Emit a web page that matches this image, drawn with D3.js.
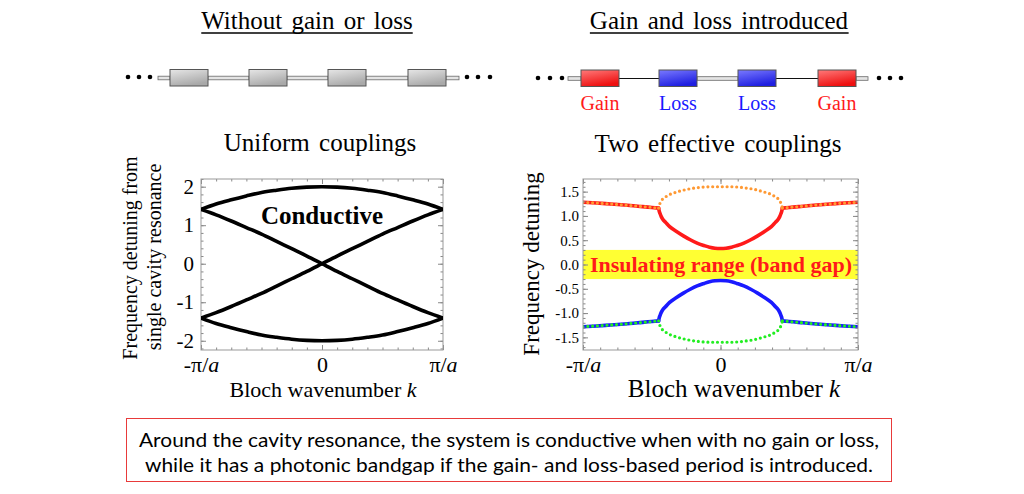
<!DOCTYPE html>
<html><head><meta charset="utf-8">
<script src="https://cdn.jsdelivr.net/npm/d3@7"></script>
<style>body{margin:0;background:#fff} svg{display:block}</style>
</head><body><svg id="c" width="1024" height="494"></svg>
<script>
// ---------- data ----------
const leftK = [-1,-0.875,-0.75,-0.625,-0.5,-0.375,-0.25,-0.125,0,0.125,0.25,0.375,0.5,0.625,0.75,0.875,1];
const upperArc = [1.41,1.55,1.66,1.76,1.85,1.91,1.96,1.99,2.00,1.99,1.96,1.91,1.85,1.76,1.66,1.55,1.41];
const lowerArc = [-1.41,-1.55,-1.66,-1.76,-1.85,-1.91,-1.96,-1.99,-2.00,-1.99,-1.96,-1.91,-1.85,-1.76,-1.66,-1.55,-1.41];
const risingBand = [-1.41,-1.27,-1.11,-0.94,-0.77,-0.58,-0.39,-0.20,0,0.20,0.39,0.58,0.77,0.94,1.11,1.27,1.41];
const fallingBand = [1.41,1.27,1.11,0.94,0.77,0.58,0.39,0.20,0,-0.20,-0.39,-0.58,-0.77,-0.94,-1.11,-1.27,-1.41];
const leftYTicks = [-2,-1,0,1,2];
const leftYTickLabels = ["-2","-1","0","1","2"];
const xTicks = [-1,0,1];

const outerKL = [-1,-0.9,-0.8,-0.7,-0.6,-0.5,-0.45];
const outerKR = [0.45,0.5,0.6,0.7,0.8,0.9,1];
const upperOuterL = [1.28,1.265,1.245,1.225,1.20,1.175,1.16];
const upperOuterR = [1.16,1.175,1.20,1.225,1.245,1.265,1.28];
const lowerOuterL = [-1.28,-1.265,-1.245,-1.225,-1.20,-1.175,-1.16];
const lowerOuterR = [-1.16,-1.175,-1.20,-1.225,-1.245,-1.265,-1.28];
const innerK = [-0.45,-0.445,-0.44,-0.43,-0.42,-0.40,-0.37,-0.32,-0.27,-0.22,-0.17,-0.12,-0.08,-0.04,0,0.04,0.08,0.12,0.17,0.22,0.27,0.32,0.37,0.40,0.42,0.43,0.44,0.445,0.45];
const redInner = [1.16,1.09,1.05,0.98,0.93,0.87,0.78,0.68,0.59,0.51,0.44,0.39,0.355,0.335,0.33,0.335,0.355,0.39,0.44,0.51,0.59,0.68,0.78,0.87,0.93,0.98,1.05,1.09,1.16];
const orangeArc = [1.16,1.22,1.26,1.31,1.35,1.39,1.44,1.49,1.53,1.56,1.58,1.595,1.60,1.60,1.60,1.60,1.60,1.595,1.58,1.56,1.53,1.49,1.44,1.39,1.35,1.31,1.26,1.22,1.16];
const blueInner = [-1.16,-1.09,-1.05,-0.98,-0.93,-0.87,-0.78,-0.68,-0.59,-0.51,-0.44,-0.39,-0.355,-0.335,-0.33,-0.335,-0.355,-0.39,-0.44,-0.51,-0.59,-0.68,-0.78,-0.87,-0.93,-0.98,-1.05,-1.09,-1.16];
const greenArc = [-1.16,-1.22,-1.26,-1.31,-1.35,-1.39,-1.44,-1.49,-1.53,-1.56,-1.58,-1.595,-1.60,-1.60,-1.60,-1.60,-1.60,-1.595,-1.58,-1.56,-1.53,-1.49,-1.44,-1.39,-1.35,-1.31,-1.26,-1.22,-1.16];
const rightYTicks = [-1.5,-1.0,-0.5,0,0.5,1.0,1.5];
const rightYTickLabels = ["-1.5","-1.0","-0.5","0.0","0.5","1.0","1.5"];
const gapBand = [-0.3, 0.3];

const chainLabels = ["Gain","Loss","Loss","Gain"];
const chainTypes = ["gain","loss","loss","gain"];
const noteLines = ["Around the cavity resonance, the system is conductive when with no gain or loss,",
                   "while it has a photonic bandgap if the gain- and loss-based period is introduced."];

// ---------- drawing ----------
const svg = d3.select("#c");
const serif = "'Liberation Serif','Times New Roman',serif";
const defs = svg.append("defs");
function grad(id, c1, c2){
  const g = defs.append("linearGradient").attr("id",id).attr("x1","0").attr("y1","0").attr("x2","0.4").attr("y2","1");
  g.append("stop").attr("offset","0").attr("stop-color",c1);
  g.append("stop").attr("offset","1").attr("stop-color",c2);
}
grad("gGray","#e6e6e6","#a9a9a9");
grad("gRed","#ff7a7a","#ee1010");
grad("gBlue","#7a7aff","#1f1fe0");

// titles
function title(text, x){
  const t = svg.append("text").attr("x",x).attr("y",29).attr("text-anchor","middle")
    .attr("font-family",serif).attr("font-size",25).attr("word-spacing","3px").text(text);
  const bb = t.node().getBBox();
  svg.append("line").attr("x1",bb.x).attr("x2",bb.x+bb.width).attr("y1",33).attr("y2",33)
    .attr("stroke","#000").attr("stroke-width",1.6);
}
title("Without gain or loss", 307);
title("Gain and loss introduced", 719);

// chains
function dots(xs, y){ xs.forEach(x=>svg.append("circle").attr("cx",x).attr("cy",y).attr("r",2.3).attr("fill","#000")); }
function dbl(x1,x2,y){
  svg.append("rect").attr("x",x1).attr("y",y-1.8).attr("width",x2-x1).attr("height",3.6)
    .attr("fill","#e4e4e4").attr("stroke","#6a6a6a").attr("stroke-width",0.8);
}
function single(x1,x2,y){ svg.append("line").attr("x1",x1).attr("x2",x2).attr("y1",y).attr("y2",y).attr("stroke","#111").attr("stroke-width",1.2); }
function box(x, y, fill){
  svg.append("rect").attr("x",x).attr("y",y).attr("width",38).attr("height",16.5)
    .attr("fill",fill).attr("stroke","#555").attr("stroke-width",1);
}
// left chain
dots([128,139,150],77);
const lbx = [170,249,328,408];
dbl(158,170,78); dbl(208,249,78); dbl(287,328,78); dbl(366,408,78); dbl(446,459,78);
lbx.forEach(x=>box(x,69.5,"url(#gGray)"));
dots([467,478,490],77);
// right chain
dots([538,550,562],78);
const rbx = [581,659,738,818];
dbl(568,581,78.5); single(619,659,78.5); dbl(697,738,78.5); single(776,818,78.5); dbl(856,868,78.5);
rbx.forEach((x,i)=>box(x,70,chainTypes[i]==="gain"?"url(#gRed)":"url(#gBlue)"));
dots([879,890,901],78);
rbx.forEach((x,i)=>svg.append("text").attr("x",x+19).attr("y",110).attr("text-anchor","middle")
  .attr("font-family",serif).attr("font-size",20)
  .attr("fill",chainTypes[i]==="gain"?"#ff1a1a":"#1a1aff").text(chainLabels[i]));

// subtitles
svg.append("text").attr("x",320).attr("y",151).attr("text-anchor","middle").attr("font-family",serif)
  .attr("font-size",25).attr("word-spacing","3px").text("Uniform couplings");
svg.append("text").attr("x",718).attr("y",152).attr("text-anchor","middle").attr("font-family",serif)
  .attr("font-size",25).attr("word-spacing","3px").text("Two effective couplings");

// ---------- scales ----------
const lx = d3.scaleLinear([-1,1],[201,443]);
const ly = d3.scaleLinear([-2.24,2.2],[350,179]);
const rx = d3.scaleLinear([-1,1],[583,858]);
const ry = d3.scaleLinear([-1.76,1.76],[350,179]);

function piLabel(sel, fs){
  sel.selectAll("text").each(function(d){
    const t = d3.select(this); t.text(null).attr("font-family",serif).attr("font-size",fs).attr("fill","#000");
    if (d===0) t.text("0");
    else { t.append("tspan").text(d<0?"-π/":"π/"); t.append("tspan").attr("font-style","italic").text("a"); }
  });
}
function frame(xs, ys, yMinor, yMajor, yLabels, yPad, yFs){
  const g = svg.append("g");
  const [x0,x1] = xs.range(), [y0,y1] = ys.range();
  const xMinor = d3.range(-8,9).map(v=>v/8);
  g.append("g").attr("transform",`translate(${x0},0)`).call(d3.axisLeft(ys).tickValues(yMinor).tickSize(-2.5).tickFormat(""));
  g.append("g").attr("transform",`translate(${x1},0)`).call(d3.axisRight(ys).tickValues(yMinor).tickSize(-2.5).tickFormat(""));
  g.append("g").attr("transform",`translate(0,${y1})`).call(d3.axisTop(xs).tickValues(xMinor).tickSize(-2.5).tickFormat(""));
  g.append("g").attr("transform",`translate(0,${y0})`).call(d3.axisBottom(xs).tickValues(xMinor).tickSize(-2.5).tickFormat(""));
  g.append("g").attr("transform",`translate(${x1},0)`).call(d3.axisRight(ys).tickValues(yMajor).tickSize(-5).tickFormat(""));
  g.append("g").attr("transform",`translate(0,${y1})`).call(d3.axisTop(xs).tickValues(xTicks).tickSize(-5).tickFormat(""));
  const ya = g.append("g").attr("transform",`translate(${x0},0)`)
    .call(d3.axisLeft(ys).tickValues(yMajor).tickSize(-5).tickPadding(yPad).tickFormat((d,i)=>yLabels[i]));
  ya.selectAll("text").attr("font-family",serif).attr("font-size",yFs).attr("fill","#000");
  const xa = g.append("g").attr("transform",`translate(0,${y0})`)
    .call(d3.axisBottom(xs).tickValues(xTicks).tickSize(-5).tickPadding(6));
  piLabel(xa, 22);
  g.selectAll(".domain").remove();
  g.selectAll(".tick line").attr("stroke","#888");
  svg.append("rect").attr("x",x0).attr("y",y1).attr("width",x1-x0).attr("height",y0-y1)
    .attr("fill","none").attr("stroke","#999").attr("stroke-width",1);
}

defs.append("clipPath").attr("id","clipL").append("rect").attr("x",201).attr("y",179).attr("width",242).attr("height",171);
defs.append("clipPath").attr("id","clipR").append("rect").attr("x",583).attr("y",179).attr("width",275).attr("height",171);

// ---------- left plot ----------
frame(lx, ly, d3.range(-11,12).map(v=>v/5), leftYTicks, leftYTickLabels, 7, 21);

const lineL = (ys)=> d3.line().x((d,i)=>lx(leftK[i])).y(d=>ly(d)).curve(d3.curveMonotoneX)(ys);
const gl = svg.append("g").attr("clip-path","url(#clipL)");
[upperArc, lowerArc, risingBand, fallingBand].forEach(s=>
  gl.append("path").attr("d",lineL(s)).attr("fill","none").attr("stroke","#000").attr("stroke-width",3.6).attr("stroke-linecap","round"));

svg.append("text").attr("x",322).attr("y",224).attr("text-anchor","middle").attr("font-family",serif)
  .attr("font-weight","bold").attr("font-size",25).text("Conductive");

svg.append("text").attr("transform","translate(137,258) rotate(-90)").attr("text-anchor","middle")
  .attr("font-family",serif).attr("font-size",20).text("Frequency detuning from");
svg.append("text").attr("transform","translate(161,257) rotate(-90)").attr("text-anchor","middle")
  .attr("font-family",serif).attr("font-size",20).text("single cavity resonance");
function kLabel(x, fs){
  const t = svg.append("text").attr("x",x).attr("y",397).attr("text-anchor","middle").attr("font-family",serif).attr("font-size",fs);
  t.append("tspan").text("Bloch wavenumber ");
  t.append("tspan").attr("font-style","italic").text("k");
}
kLabel(323, 22);

// ---------- right plot ----------
const gr = svg.append("g").attr("clip-path","url(#clipR)");
gr.append("rect").attr("x",rx(-1)).attr("width",rx(1)-rx(-1)).attr("y",ry(gapBand[1])).attr("height",ry(gapBand[0])-ry(gapBand[1]))
  .attr("fill","#ffff33");
frame(rx, ry, d3.range(-17,18).map(v=>v/10), rightYTicks, rightYTickLabels, 4, 15);

const lineR = (ks, ys)=> d3.line().x((d,i)=>rx(ks[i])).y(d=>ry(d)).curve(d3.curveMonotoneX)(ys);
function solid(ks, ys, c){ gr.append("path").attr("d",lineR(ks,ys)).attr("fill","none").attr("stroke",c).attr("stroke-width",3.6).attr("stroke-linecap","round"); }
function dotted(ks, ys, c){ gr.append("path").attr("d",lineR(ks,ys)).attr("fill","none").attr("stroke",c).attr("stroke-width",3.2).attr("stroke-linecap","round").attr("stroke-dasharray","0,4.8"); }
const red="#ff1a1a", orange="#ff9933", blue="#1a1aff", green="#22ee22";
solid(outerKL, upperOuterL, red); solid(outerKR, upperOuterR, red); solid(innerK, redInner, red);
dotted(outerKL, upperOuterL, orange); dotted(outerKR, upperOuterR, orange); dotted(innerK, orangeArc, orange);
solid(outerKL, lowerOuterL, blue); solid(outerKR, lowerOuterR, blue); solid(innerK, blueInner, blue);
dotted(outerKL, lowerOuterL, green); dotted(outerKR, lowerOuterR, green); dotted(innerK, greenArc, green);

svg.append("text").attr("x",721).attr("y",272).attr("text-anchor","middle").attr("font-family",serif)
  .attr("font-weight","bold").attr("font-size",22).attr("fill","#ff1a1a").text("Insulating range (band gap)");

svg.append("text").attr("transform","translate(539,264) rotate(-90)").attr("text-anchor","middle")
  .attr("font-family",serif).attr("font-size",23).text("Frequency detuning");
kLabel(734, 25);

// ---------- note box ----------
svg.append("rect").attr("x",126.5).attr("y",418.5).attr("width",765).attr("height",63)
  .attr("fill","#fff").attr("stroke","#e83a3a").attr("stroke-width",1);
const nl = [[447,740],[472,728]];
noteLines.forEach((s,i)=>svg.append("text").attr("x",509).attr("y",nl[i][0]).attr("text-anchor","middle")
  .attr("font-family","Lato,'Noto Sans',sans-serif").attr("font-size",19)
  .attr("textLength",nl[i][1]).attr("lengthAdjust","spacingAndGlyphs").text(s));
</script></body></html>
